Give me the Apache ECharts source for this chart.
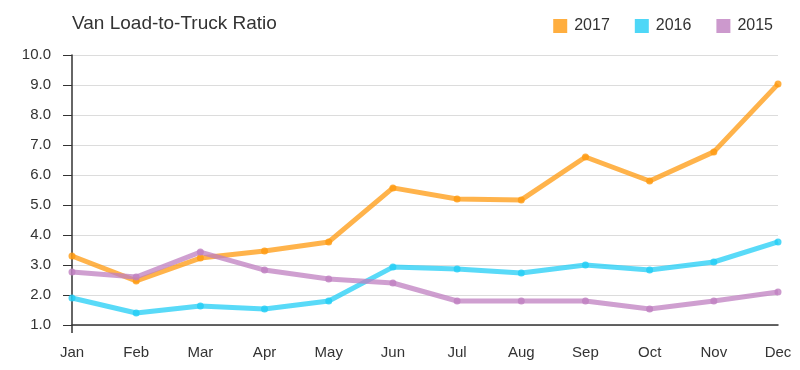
<!DOCTYPE html>
<html><head><meta charset="utf-8">
<script src="https://cdn.jsdelivr.net/npm/echarts@6/dist/echarts.min.js"></script>
<style>html,body{margin:0;padding:0;background:#fff}#c{width:800px;height:370px}</style>
</head><body><div id="c"></div>
<script>
var months = ['Jan','Feb','Mar','Apr','May','Jun','Jul','Aug','Sep','Oct','Nov','Dec'];
var s2017 = [3.3, 2.47, 3.23, 3.47, 3.77, 5.57, 5.2, 5.17, 6.6, 5.8, 6.77, 9.03];
var s2016 = [1.9, 1.4, 1.63, 1.53, 1.8, 2.93, 2.87, 2.73, 3.0, 2.83, 3.1, 3.77];
var s2015 = [2.77, 2.6, 3.43, 2.83, 2.53, 2.4, 1.8, 1.8, 1.8, 1.53, 1.8, 2.1];
var colors = ['#ff9a0f', '#22cdf5', '#bf7fc0'];
var font = 'Helvetica, Arial, "Liberation Sans", sans-serif';
function line(name, data, color) {
  return {
    name: name, type: 'line', data: data,
    symbol: 'circle', symbolSize: 7,
    itemStyle: { color: color, opacity: 0.8 },
    lineStyle: { color: color, width: 5, opacity: 0.75 },
    emphasis: { disabled: true }
  };
}
var chart = echarts.init(document.getElementById('c'));
chart.setOption({
  animation: false,
  color: colors,
  textStyle: { fontFamily: font },
  title: { text: 'Van Load-to-Truck Ratio', left: 67, top: 9,
    textStyle: { fontSize: 19, fontWeight: 'normal', color: '#333', fontFamily: font } },
  legend: { right: 22, top: 13, itemWidth: 14, itemHeight: 14, itemGap: 25,
    icon: 'rect', textStyle: { fontSize: 16, color: '#333', fontFamily: font, padding: [0, 0, 0, 2] },
    data: ['2017', '2016', '2015'] },
  grid: { left: 72, right: 22, top: 55, bottom: 45 },
  xAxis: {
    type: 'category', data: months, boundaryGap: false,
    axisLine: { lineStyle: { color: '#333', width: 1.5 } },
    axisTick: { show: true, length: 8, interval: function (i) { return i === 0; }, lineStyle: { color: '#333', width: 1.5 } },
    axisLabel: { fontSize: 15, color: '#333', margin: 20, fontFamily: font }
  },
  yAxis: {
    type: 'value', min: 1, max: 10, interval: 1,
    axisLine: { show: true, lineStyle: { color: '#333', width: 1.5 } },
    axisTick: { show: true, length: 9, lineStyle: { color: '#333' } },
    axisLabel: { fontSize: 15, color: '#333', margin: 21, formatter: function (v) { return v.toFixed(1); }, fontFamily: font },
    splitLine: { lineStyle: { color: '#dcdcdc' } }
  },
  series: [line('2017', s2017, colors[0]), line('2016', s2016, colors[1]), line('2015', s2015, colors[2])]
});
</script></body></html>
